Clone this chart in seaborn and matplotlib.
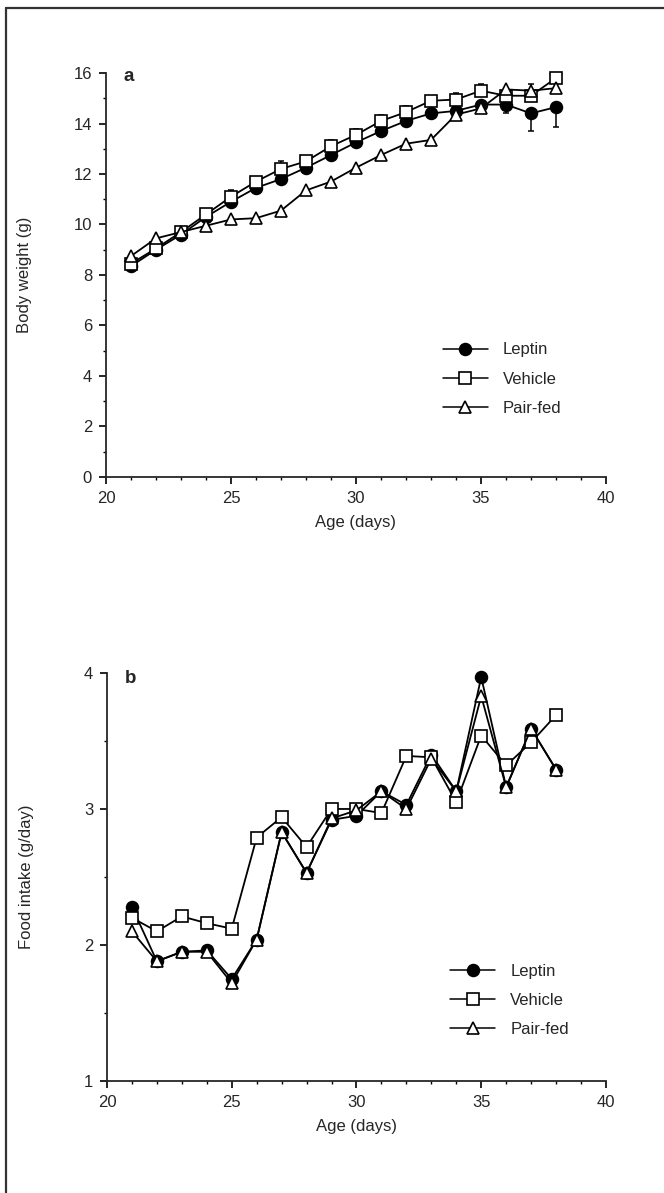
import matplotlib
matplotlib.use("Agg")
import matplotlib.pyplot as plt
from matplotlib.lines import Line2D
from matplotlib.ticker import MultipleLocator
import numpy as np
import pandas as pd
import seaborn as sns

# Age of the animals (days)
days = list(range(21, 39))

# Panel a: body weight (g)
bw_leptin = [8.35, 9.0, 9.6, 10.3, 10.9, 11.45, 11.8, 12.25, 12.75, 13.25,
             13.7, 14.1, 14.4, 14.5, 14.75, 14.75, 14.4, 14.65]
bw_vehicle = [8.45, 9.05, 9.7, 10.4, 11.1, 11.7, 12.2, 12.5, 13.1, 13.55,
              14.1, 14.45, 14.9, 14.95, 15.3, 15.1, 15.1, 15.8]
bw_pairfed = [8.75, 9.45, 9.7, 9.95, 10.2, 10.25, 10.55, 11.35, 11.7, 12.25,
              12.75, 13.2, 13.35, 14.35, 14.6, 15.35, 15.3, 15.4]
# SEM drawn one-sided: leptin below the mean, vehicle above it
bw_leptin_sem = [0.1, 0.1, 0.1, 0.1, 0.1, 0.1, 0.1, 0.1, 0.1, 0.1,
                 0.1, 0.1, 0.1, 0.15, 0.35, 0.35, 0.7, 0.8]
bw_vehicle_sem = [0.1, 0.15, 0.2, 0.2, 0.25, 0.2, 0.3, 0.2, 0.25, 0.25,
                  0.25, 0.25, 0.15, 0.25, 0.25, 0.2, 0.45, 0.15]

# Panel b: food intake (g/day)
fi_leptin = [2.28, 1.88, 1.95, 1.96, 1.75, 2.04, 2.83, 2.53, 2.92, 2.95,
             3.13, 3.03, 3.40, 3.13, 3.97, 3.16, 3.59, 3.29]
fi_vehicle = [2.20, 2.10, 2.21, 2.16, 2.12, 2.79, 2.94, 2.72, 3.00, 3.00,
              2.97, 3.39, 3.38, 3.05, 3.54, 3.32, 3.49, 3.69]
fi_pairfed = [2.10, 1.88, 1.95, 1.95, 1.72, 2.04, 2.83, 2.53, 2.93, 2.99,
              3.13, 3.00, 3.37, 3.13, 3.83, 3.16, 3.59, 3.29]

groups = ["Leptin", "Vehicle", "Pair-fed"]
marker_style = {
    "Leptin": dict(marker="o", markerfacecolor="black", markersize=8.5),
    "Vehicle": dict(marker="s", markerfacecolor="white", markersize=8.5),
    "Pair-fed": dict(marker="^", markerfacecolor="white", markersize=9),
}

FS = 12

sns.set_theme(style="ticks")
plt.rcParams["font.family"] = ["Liberation Sans", "DejaVu Sans"]
plt.rcParams["axes.linewidth"] = 1.3

fig = plt.figure(figsize=(6.64, 11.93), dpi=100)
ax_a = fig.add_axes([0.1596, 0.6002, 0.7530, 0.3386])
ax_b = fig.add_axes([0.1611, 0.0939, 0.7515, 0.3420])


def draw_panel(ax, series, ylim, ymajor, yminor, ylabel, tag, tag_y,
               legend_anchor):
    for name, vals in zip(groups, series):
        df = pd.DataFrame({"age": days, "value": vals})
        sns.lineplot(data=df, x="age", y="value", ax=ax, color="black",
                     linewidth=1.3, markeredgecolor="black",
                     markeredgewidth=1.2, label=name, zorder=3,
                     clip_on=False, **marker_style[name])
    ax.set_xlim(20, 40)
    ax.set_ylim(*ylim)
    ax.xaxis.set_major_locator(MultipleLocator(5))
    ax.xaxis.set_minor_locator(MultipleLocator(1))
    ax.yaxis.set_major_locator(MultipleLocator(ymajor))
    ax.yaxis.set_minor_locator(MultipleLocator(yminor))
    ax.tick_params(which="major", direction="out", length=5, width=1.2,
                   labelsize=FS, color="black", pad=5)
    ax.tick_params(which="minor", direction="out", length=2.5, width=1.0,
                   color="black")
    sns.despine(ax=ax)
    ax.set_xlabel("Age (days)", fontsize=FS)
    ax.set_ylabel(ylabel, fontsize=FS)
    ax.yaxis.set_label_coords(-0.147, 0.5)
    ax.xaxis.set_label_coords(0.5, -0.093)
    ax.text(0.035, tag_y, tag, transform=ax.transAxes, fontsize=13.5,
            fontweight="bold", va="top", ha="left")
    leg = ax.legend(loc="upper left", bbox_to_anchor=legend_anchor,
                    frameon=False, fontsize=FS, handlelength=2.7,
                    handletextpad=0.9, labelspacing=0.85, borderpad=0,
                    borderaxespad=0)
    for h in leg.legend_handles:
        h.set_linewidth(1.1)


draw_panel(ax_a, [bw_leptin, bw_vehicle, bw_pairfed], (0, 16), 2, 1,
           "Body weight (g)", "a", 1.012, (0.674, 0.333))
# one-sided error bars for panel a
zeros = np.zeros(len(days))
for vals, yerr in ((bw_leptin, [bw_leptin_sem, zeros]),
                   (bw_vehicle, [zeros, bw_vehicle_sem])):
    eb = ax_a.errorbar(days, vals, yerr=yerr, fmt="none", ecolor="black",
                       elinewidth=1.1, capsize=2.5, capthick=1.1, zorder=2)
    for art in eb.lines[1] + eb.lines[2]:
        art.set_clip_on(False)

draw_panel(ax_b, [fi_leptin, fi_vehicle, fi_pairfed], (1, 4), 1, 0.5,
           "Food intake (g/day)", "b", 1.008, (0.688, 0.287))

# figure frame along the top and left edges
fig.add_artist(Line2D([0.009, 1.0], [0.9937, 0.9937], color="#333333",
                      linewidth=1.6, transform=fig.transFigure))
fig.add_artist(Line2D([0.009, 0.009], [0.0, 0.9937], color="#333333",
                      linewidth=1.6, transform=fig.transFigure))

fig.savefig("out.png", dpi=100, facecolor="white")
